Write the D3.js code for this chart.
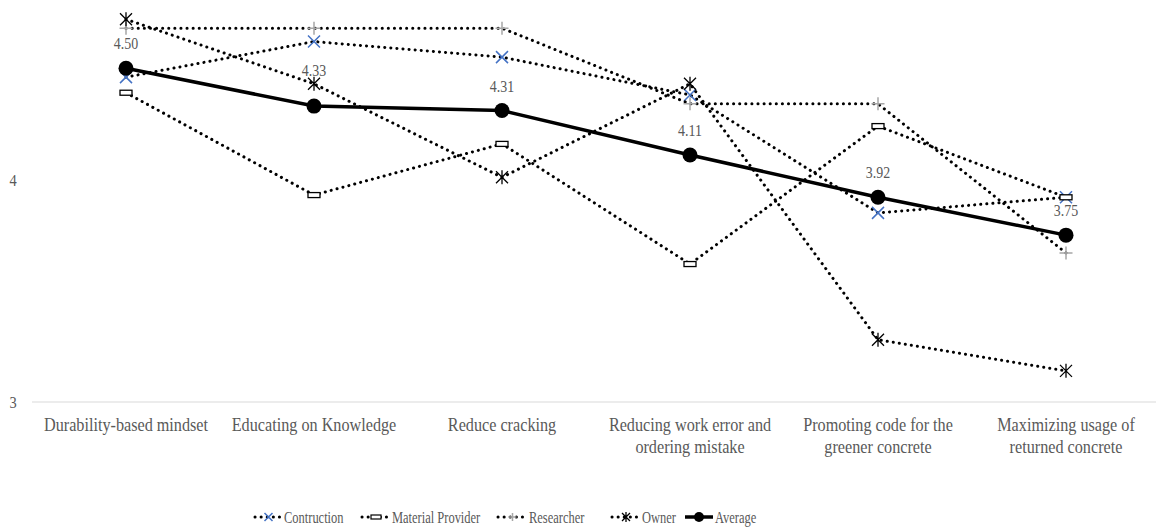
<!DOCTYPE html>
<html>
<head>
<meta charset="utf-8">
<script src="https://cdn.jsdelivr.net/npm/d3@7"></script>
<style>
  body { margin: 0; background: #fff; }
  svg { display: block; }
  text { font-family: "Liberation Serif", "Times New Roman", serif; }
</style>
</head>
<body>
<svg id="chart" width="1156" height="528"></svg>
<script>
// data
const categories = [
  ['Durability-based mindset'],
  ['Educating on Knowledge'],
  ['Reduce cracking'],
  ['Reducing work error and', 'ordering mistake'],
  ['Promoting code for the', 'greener concrete'],
  ['Maximizing usage of', 'returned concrete']
]
const seriesNames = ['Contruction', 'Material Provider', 'Researcher', 'Owner', 'Average']
const contruction = [4.46, 4.62, 4.55, 4.38, 3.85, 3.92]
const materialProvider = [4.39, 3.93, 4.16, 3.62, 4.24, 3.92]
const researcher = [4.68, 4.68, 4.68, 4.34, 4.34, 3.67]
const owner = [4.72, 4.43, 4.01, 4.43, 3.28, 3.14]
const average = [4.50, 4.33, 4.31, 4.11, 3.92, 3.75]
const yTicks = [3, 4]

const svg = d3.select('#chart')
const textGrey = '#595959'

// the original text is a tall, narrow face: squeeze horizontally
const squeeze = (x, y, s) => `translate(${x},${y}) scale(${s},1)`

const x = d3.scaleBand().domain(d3.range(categories.length)).range([32, 1160])
const cx = i => x(i) + x.bandwidth() / 2
const y = d3.scaleLinear().domain([3, 4]).range([402, 179.5])

// axis baseline
svg.append('line')
  .attr('x1', x.range()[0]).attr('x2', x.range()[1])
  .attr('y1', y(3)).attr('y2', y(3))
  .attr('stroke', '#d9d9d9').attr('stroke-width', 1.2)

// y tick labels
svg.selectAll('.ytick').data(yTicks).enter().append('text')
  .attr('transform', d => squeeze(13, y(d) + 6, 0.85))
  .attr('text-anchor', 'middle')
  .attr('font-size', 17).attr('fill', textGrey)
  .text(d => d)

// category labels
const cat = svg.selectAll('.cat').data(categories).enter().append('text')
  .attr('transform', (d, i) => squeeze(cx(i), 0, 0.9))
  .attr('text-anchor', 'middle')
  .attr('font-size', 18).attr('fill', textGrey)
cat.each(function(lines) {
  d3.select(this).selectAll('tspan').data(lines).enter().append('tspan')
    .attr('x', 0).attr('y', (d, j) => 431 + j * 22)
    .text(d => d)
})

// marker drawers
function markX(g, s, color) {
  g.append('path').attr('d', `M${-s},${-s}L${s},${s}M${-s},${s}L${s},${-s}`)
    .attr('stroke', color).attr('stroke-width', 1.5).attr('fill', 'none')
}
function markRect(g) {
  g.append('rect').attr('x', -6).attr('y', -2.5).attr('width', 12).attr('height', 5)
    .attr('fill', '#fff').attr('stroke', '#000').attr('stroke-width', 1.3)
}
function markPlus(g, s) {
  g.append('path').attr('d', `M${-s},0L${s},0M0,${-s}L0,${s}`)
    .attr('stroke', '#a6a6a6').attr('stroke-width', 1.5).attr('fill', 'none')
}
function markStar(g, s) {
  g.append('path').attr('d', `M${-s},${-s}L${s},${s}M${-s},${s}L${s},${-s}M0,${-s-1}L0,${s+1}`)
    .attr('stroke', '#000').attr('stroke-width', 1.3).attr('fill', 'none')
}
function markDot(g) {
  g.append('circle').attr('r', 7.5).attr('fill', '#000')
}

const series = [
  { values: contruction, marker: g => markX(g, 6, '#4472c4') },
  { values: materialProvider, marker: g => markRect(g) },
  { values: researcher, marker: g => markPlus(g, 6.5) },
  { values: owner, marker: g => markStar(g, 6) },
  { values: average, marker: g => markDot(g), solid: true }
]

const line = d3.line().x((d, i) => cx(i)).y(d => y(d))

series.forEach(s => {
  const p = svg.append('path').datum(s.values)
    .attr('d', line).attr('fill', 'none').attr('stroke', '#000')
  if (s.solid) {
    p.attr('stroke-width', 3.5)
  } else {
    p.attr('stroke-width', 3).attr('stroke-linecap', 'round')
      .attr('stroke-dasharray', '0.1 6')
  }
  s.values.forEach((v, i) => {
    const g = svg.append('g').attr('transform', `translate(${cx(i)},${y(v)})`)
    s.marker(g)
  })
})

// data labels on average (the second one was nudged up in the original)
svg.selectAll('.lbl').data(average).enter().append('text')
  .attr('transform', (d, i) => squeeze(cx(i), y(d) - (i === 1 ? 30 : 19), 0.82))
  .attr('text-anchor', 'middle')
  .attr('font-size', 17).attr('fill', textGrey)
  .text(d => d.toFixed(2))

// legend
const legendY = 517
const legendPos = [
  { x0: 255, x1: 282 },
  { x0: 362, x1: 390 },
  { x0: 498, x1: 527 },
  { x0: 612, x1: 640 },
  { x0: 685, x1: 713 }
]
series.forEach((s, i) => {
  const lp = legendPos[i]
  const l = svg.append('line')
    .attr('x1', lp.x0).attr('x2', lp.x1).attr('y1', legendY).attr('y2', legendY)
    .attr('stroke', '#000')
  if (s.solid) l.attr('stroke-width', 3.5)
  else l.attr('stroke-width', 3).attr('stroke-linecap', 'round').attr('stroke-dasharray', '0.1 6')
  const g = svg.append('g').attr('transform', `translate(${(lp.x0 + lp.x1) / 2},${legendY})`)
  if (i === 0) markX(g, 4, '#4472c4')
  else if (i === 1) g.append('rect').attr('x', -5).attr('y', -2).attr('width', 10).attr('height', 4).attr('fill', '#fff').attr('stroke', '#000').attr('stroke-width', 1.2)
  else if (i === 2) markPlus(g, 4)
  else if (i === 3) markStar(g, 4)
  else g.append('circle').attr('r', 5).attr('fill', '#000')
  svg.append('text')
    .attr('transform', squeeze(lp.x1 + 2, legendY + 6, 0.78))
    .attr('font-size', 16).attr('fill', textGrey)
    .text(seriesNames[i])
})
</script>
</body>
</html>
